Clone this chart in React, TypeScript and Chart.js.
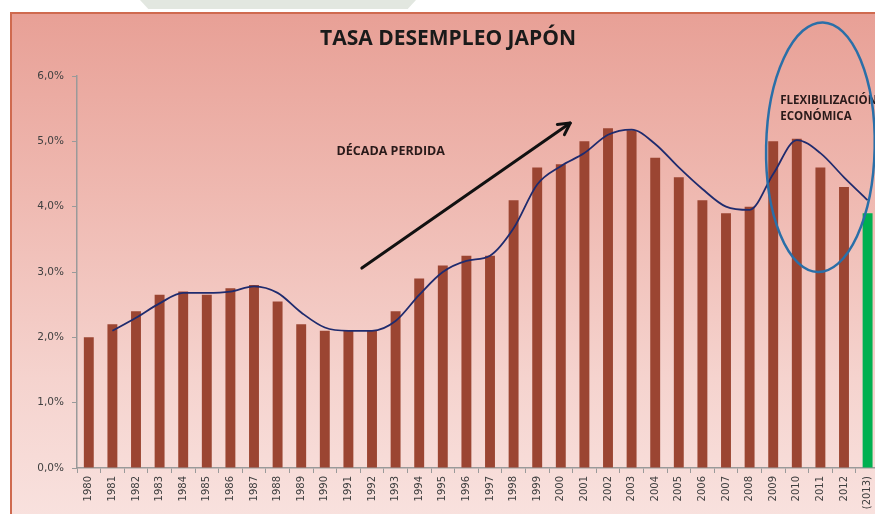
import React, { useEffect, useRef } from "react";
import { Chart, registerables } from "chart.js";

Chart.register(...registerables);

const years: string[] = [
  "1980", "1981", "1982", "1983", "1984", "1985", "1986", "1987", "1988", "1989",
  "1990", "1991", "1992", "1993", "1994", "1995", "1996", "1997", "1998", "1999",
  "2000", "2001", "2002", "2003", "2004", "2005", "2006", "2007", "2008", "2009",
  "2010", "2011", "2012", "(2013)",
];

const unemployment: number[] = [
  2.0, 2.2, 2.4, 2.65, 2.7, 2.65, 2.75, 2.8, 2.55, 2.2,
  2.1, 2.1, 2.1, 2.4, 2.9, 3.1, 3.25, 3.25, 4.1, 4.6,
  4.65, 5.0, 5.2, 5.17, 4.75, 4.45, 4.1, 3.9, 4.0, 5.0,
  5.04, 4.6, 4.3, 3.9,
];

const trend: (number | null)[] = [
  null, 2.1, 2.3, 2.52, 2.68, 2.68, 2.7, 2.78, 2.68, 2.38,
  2.15, 2.1, 2.1, 2.25, 2.65, 3.0, 3.17, 3.25, 3.67, 4.34,
  4.62, 4.82, 5.1, 5.18, 4.96, 4.6, 4.27, 4.0, 3.95, 4.5,
  5.02, 4.82, 4.45, 4.1,
];

const yTicks: number[] = [0, 1, 2, 3, 4, 5, 6];

const TITLE = "TASA DESEMPLEO JAPÓN";
const NOTE_DECADE = "DÉCADA PERDIDA";
const NOTE_FLEX = ["FLEXIBILIZACIÓN", "ECONÓMICA"];

const BAR = "#9B4532";
const FORECAST = "#00B050";

const overlay = {
  id: "overlay",
  afterDraw(chart: any) {
    const ctx = chart.ctx as CanvasRenderingContext2D;
    const xs = chart.scales.x;
    const ys = chart.scales.y;
    const x0 = xs.getPixelForValue(0);
    const step = xs.getPixelForValue(1) - x0;
    const px = (i: number) => x0 + step * i;
    const py = (v: number) => ys.getPixelForValue(v);
    ctx.save();

    // title
    ctx.fillStyle = "#1a1a1a";
    ctx.font = "bold 21px 'Open Sans', sans-serif";
    ctx.textAlign = "center";
    ctx.textBaseline = "middle";
    ctx.fillText(TITLE, 448, 39);

    // arrow
    const x1 = px(11.57), y1 = py(3.06);
    const x2 = px(20.4), y2 = py(5.28);
    ctx.strokeStyle = "#111111";
    ctx.lineWidth = 3;
    ctx.lineCap = "round";
    ctx.lineJoin = "round";
    ctx.beginPath();
    ctx.moveTo(x1, y1);
    ctx.lineTo(x2, y2);
    ctx.stroke();
    const ang = Math.atan2(y2 - y1, x2 - x1);
    const hl = 13;
    ctx.beginPath();
    ctx.moveTo(x2 - hl * Math.cos(ang - 0.5), y2 - hl * Math.sin(ang - 0.5));
    ctx.lineTo(x2, y2);
    ctx.lineTo(x2 - hl * Math.cos(ang + 0.5), y2 - hl * Math.sin(ang + 0.5));
    ctx.stroke();

    // texts
    ctx.fillStyle = "#2a1a1a";
    ctx.font = "bold 12.5px 'Open Sans', sans-serif";
    ctx.textAlign = "left";
    ctx.fillText(NOTE_DECADE, px(10.5), py(4.84));
    ctx.font = "bold 11.5px 'Open Sans', sans-serif";
    ctx.fillText(NOTE_FLEX[0], px(29.3), py(5.62));
    ctx.fillText(NOTE_FLEX[1], px(29.3), py(5.37));

    // ellipse
    const cx = px(31.0), cy = py(4.91);
    const rx = step * 2.3;
    const ry = py(3.0) - cy;
    ctx.strokeStyle = "#2A6FA8";
    ctx.lineWidth = 2.5;
    ctx.beginPath();
    ctx.ellipse(cx, cy, rx, ry, 0.02, 0, Math.PI * 2);
    ctx.stroke();
    ctx.restore();
  },
};

export default function App() {
  const ref = useRef<HTMLCanvasElement | null>(null);

  useEffect(() => {
    if (!ref.current) return;
    const chart = new Chart(ref.current, {
      type: "bar",
      data: {
        labels: years,
        datasets: [
          {
            type: "line",
            data: trend,
            borderColor: "#1F2B6E",
            borderWidth: 1.8,
            pointRadius: 0,
            cubicInterpolationMode: "monotone",
            fill: false,
            order: 0,
          } as any,
          {
            type: "bar",
            data: unemployment,
            backgroundColor: years.map((_, i) => (i === years.length - 1 ? FORECAST : BAR)),
            barPercentage: 0.42,
            categoryPercentage: 1,
            order: 1,
          },
        ],
      },
      options: {
        animation: false,
        responsive: false,
        devicePixelRatio: 1,
        layout: { padding: { top: 76, right: 20.6, left: 0, bottom: 0 } },
        plugins: {
          legend: { display: false },
          title: { display: false },
          tooltip: { enabled: false },
        },
        scales: {
          x: {
            afterFit: (s: any) => {
              s.height = 46;
            },
            grid: {
              drawOnChartArea: false,
              drawTicks: true,
              tickLength: 5,
              color: "#9A9A9A",
              offset: true,
            },
            border: { display: true, color: "#9A9A9A", width: 1.5 },
            ticks: {
              minRotation: 90,
              maxRotation: 90,
              autoSkip: false,
              padding: 3,
              color: "#404040",
              font: { family: "'DejaVu Sans', sans-serif", size: 10 },
            },
          },
          y: {
            min: 0,
            max: 6,
            afterFit: (s: any) => {
              s.width = 77;
            },
            afterBuildTicks: (s: any) => {
              s.ticks = yTicks.map((v) => ({ value: v }));
            },
            grid: {
              drawOnChartArea: false,
              drawTicks: true,
              tickLength: 5,
              color: "#9A9A9A",
            },
            border: { display: true, color: "#9A9A9A", width: 1.5 },
            ticks: {
              padding: 8,
              color: "#404040",
              font: { family: "'DejaVu Sans', sans-serif", size: 10.5 },
              callback: (v: any) => Number(v).toFixed(1).replace(".", ",") + "%",
            },
          },
        },
      },
      plugins: [overlay],
    });
    return () => chart.destroy();
  }, []);

  return (
    <div
      style={{
        position: "fixed",
        left: 0,
        top: 0,
        width: 875,
        height: 514,
        overflow: "hidden",
        background: "#ffffff",
      }}
    >
      <div
        style={{
          position: "absolute",
          left: 140,
          top: 0,
          width: 276,
          height: 9,
          background: "#E2E7E0",
          clipPath: "polygon(0 0, 100% 0, 97% 100%, 3% 100%)",
        }}
      />
      <div
        style={{
          position: "absolute",
          left: 10,
          top: 12,
          width: 900,
          height: 520,
          border: "2px solid #CF6A4F",
          background: "linear-gradient(to bottom, #E8A096 0%, #EFB9B1 35%, #F5D3CE 70%, #F9E3E0 100%)",
        }}
      />
      <canvas
        ref={ref}
        width={900}
        height={514}
        style={{ position: "absolute", left: 0, top: 0, width: 900, height: 514 }}
      />
    </div>
  );
}
